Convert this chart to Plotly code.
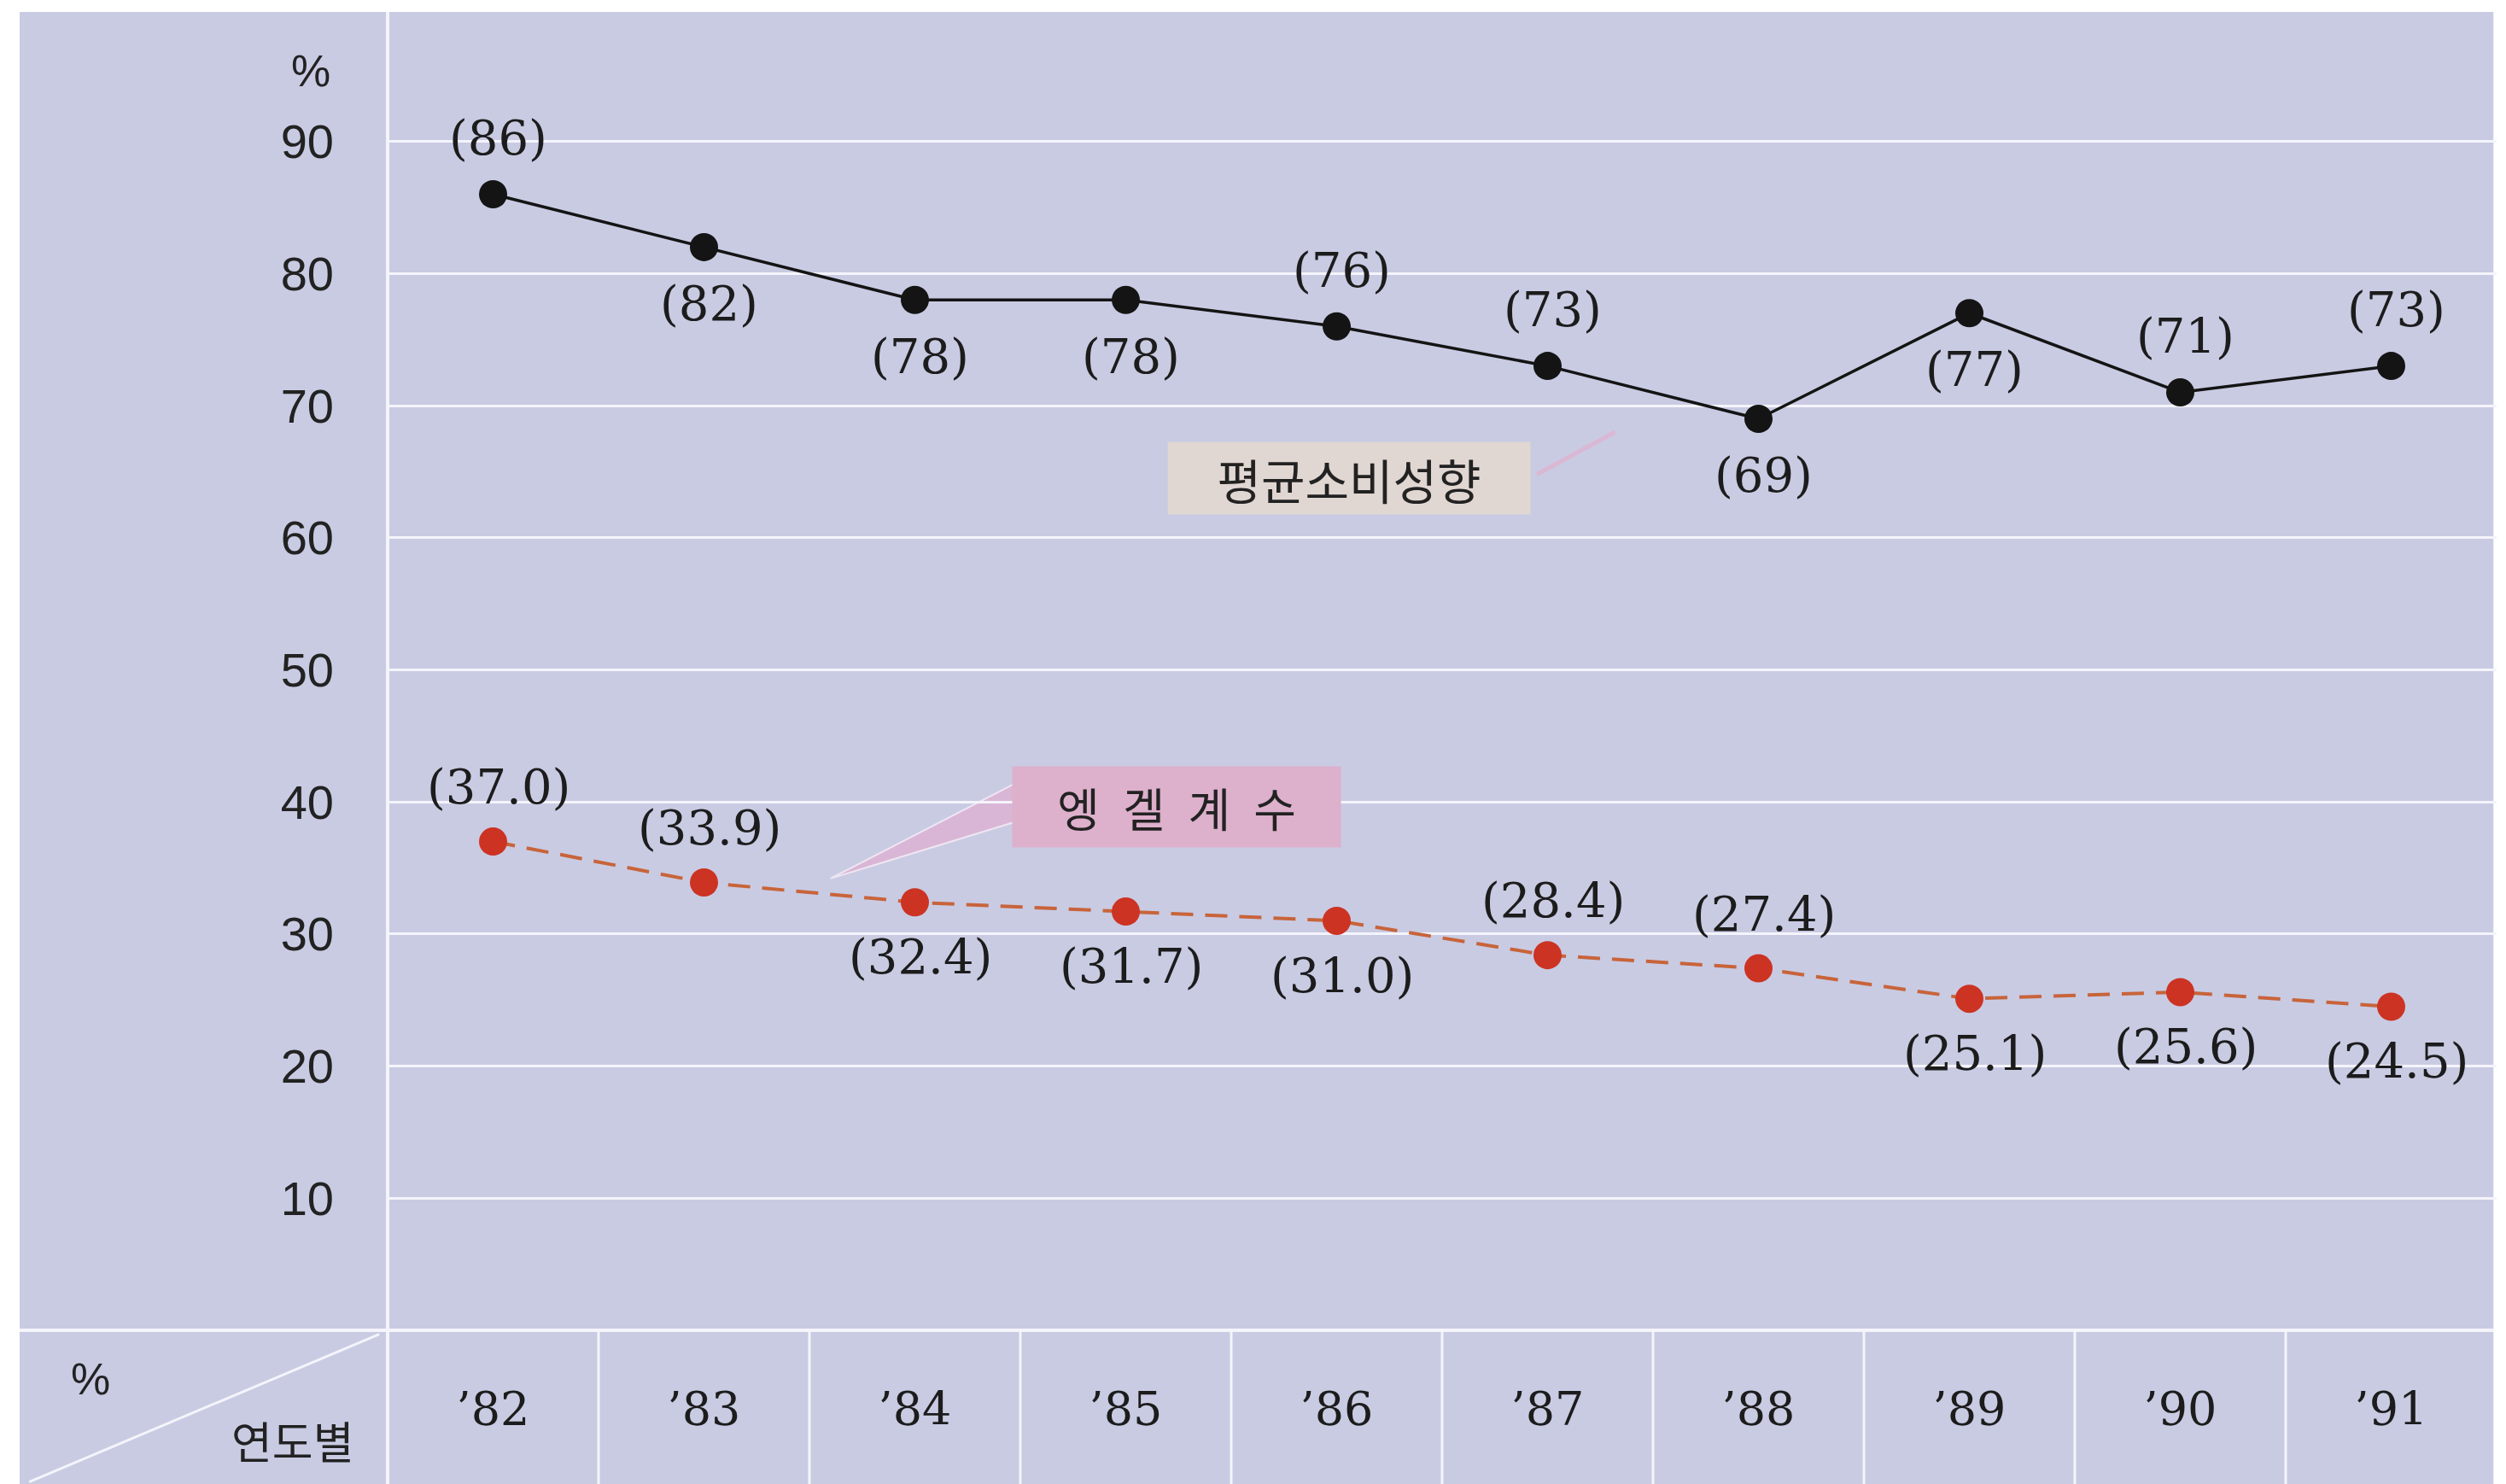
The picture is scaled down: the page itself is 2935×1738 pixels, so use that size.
import plotly.graph_objects as go

# ---- data ----
years = ["’82", "’83", "’84", "’85", "’86", "’87", "’88", "’89", "’90", "’91"]
apc = [86, 82, 78, 78, 76, 73, 69, 77, 71, 73]            # 평균소비성향
engel = [37.0, 33.9, 32.4, 31.7, 31.0, 28.4, 27.4, 25.1, 25.6, 24.5]  # 엥겔계수
apc_labels = ["(86)", "(82)", "(78)", "(78)", "(76)", "(73)", "(69)", "(77)", "(71)", "(73)"]
engel_labels = ["(37.0)", "(33.9)", "(32.4)", "(31.7)", "(31.0)", "(28.4)", "(27.4)", "(25.1)", "(25.6)", "(24.5)"]
y_ticks = [10, 20, 30, 40, 50, 60, 70, 80, 90]

# label placement (layout, not data): +1 above, -1 below
apc_side = [1, -1, -1, -1, 1, 1, -1, -1, 1, 1]
engel_side = [1, 1, -1, -1, -1, 1, 1, -1, -1, -1]

BG = "#c9cbe3"
GRID = "#f4f4fb"
xs = list(range(len(years)))

fig = go.Figure()
fig.add_trace(go.Scatter(
    x=xs, y=engel, mode="lines+markers",
    line=dict(color="#c8643a", width=4, dash="26px,14px"),
    marker=dict(color="#cc3322", size=33),
    hoverinfo="skip", showlegend=False))
fig.add_trace(go.Scatter(
    x=xs, y=apc, mode="lines+markers",
    line=dict(color="#141414", width=3.5),
    marker=dict(color="#141414", size=33),
    hoverinfo="skip", showlegend=False))

label_font = dict(family="DejaVu Serif", size=56, color="#1c1c1c")
annotations = []
for i, (v, t, s) in enumerate(zip(apc, apc_labels, apc_side)):
    annotations.append(dict(x=i, y=v, text=t, showarrow=False, xanchor="center",
                            yanchor="middle", yshift=66 * s, xshift=6, font=label_font))
for i, (v, t, s) in enumerate(zip(engel, engel_labels, engel_side)):
    annotations.append(dict(x=i, y=v, text=t, showarrow=False, xanchor="center",
                            yanchor="middle", yshift=64 * s, xshift=6, font=label_font))

# series name boxes
annotations.append(dict(x=4.06, y=64.5, text="평균소비성향", showarrow=False,
                        font=dict(family="Noto Sans CJK KR", size=56, color="#222"),
                        bgcolor="#e0d6d2", width=410, height=70, borderpad=7,
                        xanchor="center", yanchor="middle"))
annotations.append(dict(x=3.24, y=39.6, text="엥\u2002겔\u2002계\u2002수", showarrow=False,
                        font=dict(family="Noto Sans CJK KR", size=54, color="#222"),
                        bgcolor="#ddb0cc", width=360, height=70, borderpad=12,
                        xanchor="center", yanchor="middle"))

# axis-unit / table-corner texts
annotations.append(dict(xref="paper", yref="paper", x=-0.0364, y=0.955, text="%",
                        xanchor="center", yanchor="middle",
                        showarrow=False, font=dict(family="Liberation Sans", size=52, color="#222")))
annotations.append(dict(xref="paper", yref="paper", x=-0.141, y=-0.037, text="%",
                        xanchor="center", yanchor="middle",
                        showarrow=False, font=dict(family="Liberation Sans", size=52, color="#222")))
annotations.append(dict(xref="paper", yref="paper", x=-0.045, y=-0.083, text="연도별",
                        xanchor="center", yanchor="middle",
                        showarrow=False, font=dict(family="Noto Sans CJK KR", size=52, color="#222")))

shapes = []
# background
shapes.append(dict(type="rect", xref="paper", yref="paper", x0=-0.1745, x1=0.9985, y0=-0.2, y1=1.0,
                   fillcolor=BG, line=dict(width=0), layer="below"))
# left white vertical line
shapes.append(dict(type="line", xref="paper", yref="paper", x0=0, x1=0, y0=-0.2, y1=1.0,
                   line=dict(color=GRID, width=4), layer="below"))
# zero line / table top
shapes.append(dict(type="line", xref="paper", yref="paper", x0=-0.1745, x1=0.9985, y0=0, y1=0,
                   line=dict(color=GRID, width=4), layer="below"))
# table column separators
for k in range(1, len(years)):
    shapes.append(dict(type="line", xref="x", yref="paper", x0=k - 0.5, x1=k - 0.5, y0=0, y1=-0.2,
                       line=dict(color=GRID, width=3), layer="below"))
# corner diagonal
shapes.append(dict(type="line", xref="paper", yref="paper", x0=-0.17, x1=-0.004, y0=-0.115, y1=-0.003,
                   line=dict(color=GRID, width=3), layer="below"))
# pointer wedge for 엥겔계수
shapes.append(dict(type="path", xref="x", yref="y",
                   path="M 2.50,41.6 L 1.60,34.2 L 2.50,38.6 Z",
                   fillcolor="#d9b6d6", line=dict(color="#efe6f2", width=2), layer="below"))
# faint pointer for 평균소비성향
shapes.append(dict(type="line", xref="x", yref="y", x0=4.95, y0=64.8, x1=5.32, y1=68.0,
                   line=dict(color="rgba(225,175,205,0.7)", width=5), layer="below"))

fig.update_layout(
    width=2935, height=1738,
    margin=dict(l=446, r=19, t=6, b=188),
    paper_bgcolor="white", plot_bgcolor="rgba(0,0,0,0)",
    annotations=annotations, shapes=shapes,
    xaxis=dict(range=[-0.5, len(years) - 0.5], tickvals=xs, ticktext=years,
               showgrid=False, zeroline=False, showline=False, ticks="",
               ticklabelstandoff=56,
               tickfont=dict(family="DejaVu Serif", size=54, color="#1c1c1c")),
    yaxis=dict(range=[0, 99.8], tickvals=y_ticks, showgrid=True, gridcolor=GRID, gridwidth=3,
               zeroline=False, showline=False, ticks="", ticklabelstandoff=62,
               tickfont=dict(family="Liberation Sans", size=56, color="#222")),
)

fig.write_html("out.html")
